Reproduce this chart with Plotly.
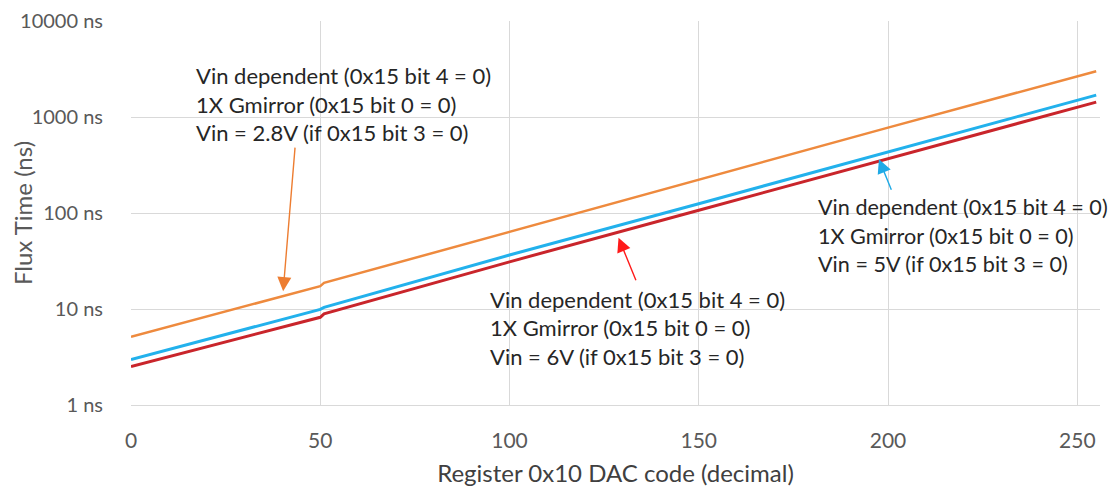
import plotly.graph_objects as go

# ---- data ----
dac_code = [0, 50, 51, 100, 150, 200, 255]
flux_vin_2v8 = [5.15, 17.3, 18.7, 64, 225, 775, 3000]
flux_vin_5v = [2.98, 9.9, 10.4, 36.5, 125, 430, 1690]
flux_vin_6v = [2.52, 8.2, 8.9, 31, 107, 365, 1430]

y_tickvals = [1, 10, 100, 1000, 10000]
y_ticktext = ["1 ns", "10 ns", "100 ns", "1000 ns", "10000 ns"]
x_tickvals = [0, 50, 100, 150, 200, 250]

label_2v8 = ["Vin dependent (0x15 bit 4 = 0)", "1X Gmirror (0x15 bit 0 = 0)", "Vin = 2.8V (if 0x15 bit 3 = 0)"]
label_5v = ["Vin dependent (0x15 bit 4 = 0)", "1X Gmirror (0x15 bit 0 = 0)", "Vin = 5V (if 0x15 bit 3 = 0)"]
label_6v = ["Vin dependent (0x15 bit 4 = 0)", "1X Gmirror (0x15 bit 0 = 0)", "Vin = 6V (if 0x15 bit 3 = 0)"]

C_OR = "#EE8A3E"
C_BL = "#22B1EC"
C_RD = "#C9252B"
FONT = "Lato"
GRAY = "#595959"

fig = go.Figure()
fig.add_trace(go.Scatter(x=dac_code, y=flux_vin_2v8, mode="lines", line=dict(color=C_OR, width=2.5), name="Vin 2.8V"))
fig.add_trace(go.Scatter(x=dac_code, y=flux_vin_5v, mode="lines", line=dict(color=C_BL, width=3), name="Vin 5V"))
fig.add_trace(go.Scatter(x=dac_code, y=flux_vin_6v, mode="lines", line=dict(color=C_RD, width=3), name="Vin 6V"))

annotations = []

def text_block(lines, x0, y_logs, size=22):
    for line, yl in zip(lines, y_logs):
        annotations.append(dict(x=x0, y=yl, xref="x", yref="y", text=line, showarrow=False,
                                xanchor="left", yanchor="middle",
                                font=dict(family=FONT, size=size, color="#262626")))

text_block(label_2v8, 16.6, [3.433, 3.134, 2.835])
text_block(label_5v, 181.0, [2.062, 1.763, 1.464], size=21.6)
text_block(label_6v, 94.2, [1.103, 0.804, 0.505])

def arrow(x, ylog, ax, ay, color, size):
    annotations.append(dict(x=x, y=ylog, xref="x", yref="y", text="", showarrow=True,
                            ax=ax, ay=ay, arrowhead=2, arrowsize=size, arrowwidth=1.4,
                            arrowcolor=color, standoff=0))

arrow(40.2, 1.186, 12, -145, "#ED7D31", 2.0)
arrow(197.6, 2.56, 13, 32, "#1FAAE6", 2.0)
arrow(128.8, 1.742, 18, 44, "#FF1A1A", 2.0)

fig.update_layout(
    width=1103, height=479,
    margin=dict(l=123, r=11, t=13, b=82),
    plot_bgcolor="white", paper_bgcolor="white",
    showlegend=False,
    annotations=annotations,
    font=dict(family=FONT, color=GRAY),
)
fig.update_xaxes(range=[0, 256], tickvals=x_tickvals, showgrid=True, gridcolor="#D9D9D9", gridwidth=1,
                 zeroline=False, showline=True, linecolor="#D9D9D9", linewidth=1, automargin=False,
                 tickfont=dict(family=FONT, size=21, color=GRAY), ticks="", ticklabelstandoff=17,
                 ticklabeloverflow="allow",
                 title=dict(text="Register 0x10 DAC code (decimal)", font=dict(family=FONT, size=24, color="#404040"), standoff=17))
fig.update_yaxes(type="log", range=[0, 4], tickvals=y_tickvals, ticktext=y_ticktext, automargin=False,
                 showgrid=True, gridcolor="#D9D9D9", gridwidth=1, zeroline=False, showline=False,
                 tickfont=dict(family=FONT, size=20, color=GRAY), ticks="", ticklabelstandoff=27,
                 ticklabeloverflow="allow",
                 title=dict(text="Flux Time (ns)", font=dict(family=FONT, size=24, color=GRAY), standoff=2))

fig.write_html("out.html")
